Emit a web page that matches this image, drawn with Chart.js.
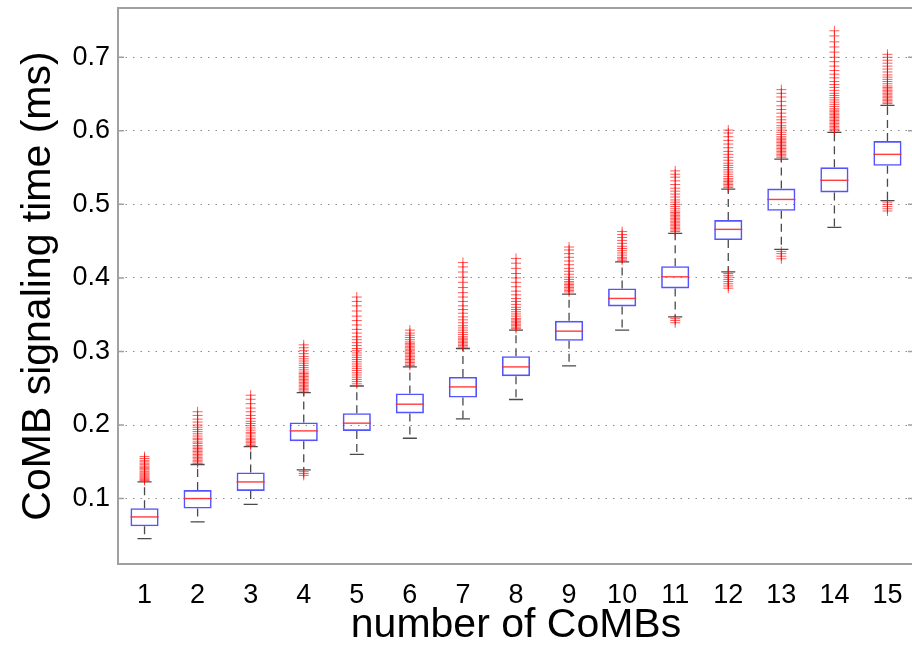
<!DOCTYPE html>
<html>
<head>
<meta charset="utf-8">
<script src="https://cdn.jsdelivr.net/npm/chart.js@4.4.1/dist/chart.umd.min.js"></script>
<style>
  html, body { margin: 0; padding: 0; background: #fff; overflow: hidden; }
  #wrap { width: 920px; height: 646px; }
</style>
</head>
<body>
<div id="wrap"><canvas id="myChart" width="920" height="646"></canvas></div>
<script>
// box plot values (ms)
const categories = [1, 2, 3, 4, 5, 6, 7, 8, 9, 10, 11, 12, 13, 14, 15];
const q1 = [0.0623, 0.0864, 0.1103, 0.178, 0.192, 0.2157, 0.2374, 0.2664, 0.3144, 0.3612, 0.3857, 0.4514, 0.4912, 0.5163, 0.5525];
const medians = [0.075, 0.100, 0.1226, 0.192, 0.2025, 0.2283, 0.2518, 0.279, 0.3276, 0.3721, 0.4015, 0.466, 0.5067, 0.5327, 0.568];
const q3 = [0.0868, 0.1115, 0.1354, 0.2034, 0.216, 0.2429, 0.2654, 0.2936, 0.3416, 0.3857, 0.416, 0.4786, 0.5215, 0.5503, 0.5861];
const whiskerLow = [0.0456, 0.0682, 0.0922, 0.139, 0.160, 0.182, 0.2083, 0.2347, 0.2804, 0.329, 0.347, 0.4083, 0.4388, 0.4687, 0.505];
const whiskerHigh = [0.1226, 0.1463, 0.1707, 0.244, 0.253, 0.279, 0.304, 0.329, 0.378, 0.4219, 0.4605, 0.5208, 0.5616, 0.598, 0.6347];
const outliers = [
  [0.1245, 0.126, 0.1275, 0.129, 0.1305, 0.132, 0.1335, 0.135, 0.137, 0.139, 0.1405, 0.142, 0.144, 0.146, 0.148, 0.150, 0.152, 0.1545, 0.157],
  [0.148, 0.150, 0.152, 0.154, 0.156, 0.158, 0.160, 0.162, 0.164, 0.166, 0.168, 0.170, 0.172, 0.175, 0.177, 0.180, 0.182, 0.185, 0.188, 0.191, 0.194, 0.197, 0.200, 0.204, 0.208, 0.213, 0.218],
  [0.172, 0.174, 0.176, 0.178, 0.180, 0.182, 0.185, 0.188, 0.190, 0.193, 0.196, 0.199, 0.202, 0.205, 0.209, 0.213, 0.218, 0.223, 0.229, 0.235, 0.2405],
  [0.1365, 0.134, 0.1315, 0.246, 0.248, 0.250, 0.252, 0.254, 0.256, 0.258, 0.260, 0.262, 0.264, 0.266, 0.268, 0.270, 0.272, 0.275, 0.278, 0.281, 0.284, 0.287, 0.290, 0.293, 0.297, 0.301, 0.305, 0.309],
  [0.256, 0.259, 0.262, 0.265, 0.268, 0.271, 0.274, 0.277, 0.280, 0.283, 0.286, 0.289, 0.292, 0.295, 0.298, 0.301, 0.304, 0.308, 0.312, 0.316, 0.320, 0.325, 0.330, 0.336, 0.342, 0.348, 0.355, 0.362, 0.368, 0.374],
  [0.281, 0.283, 0.285, 0.287, 0.289, 0.291, 0.293, 0.295, 0.297, 0.299, 0.301, 0.303, 0.305, 0.307, 0.309, 0.311, 0.313, 0.316, 0.319, 0.322, 0.325, 0.329],
  [0.306, 0.308, 0.310, 0.312, 0.314, 0.316, 0.318, 0.320, 0.323, 0.326, 0.329, 0.332, 0.335, 0.339, 0.343, 0.347, 0.352, 0.357, 0.362, 0.368, 0.374, 0.380, 0.387, 0.394, 0.401, 0.408, 0.415, 0.421],
  [0.331, 0.333, 0.335, 0.337, 0.339, 0.341, 0.343, 0.345, 0.348, 0.351, 0.354, 0.357, 0.360, 0.364, 0.368, 0.372, 0.377, 0.382, 0.388, 0.394, 0.400, 0.406, 0.413, 0.420, 0.4265],
  [0.381, 0.383, 0.385, 0.387, 0.389, 0.391, 0.393, 0.395, 0.398, 0.401, 0.405, 0.409, 0.413, 0.418, 0.423, 0.428, 0.433, 0.438, 0.442],
  [0.424, 0.426, 0.428, 0.431, 0.434, 0.437, 0.440, 0.443, 0.447, 0.451, 0.455, 0.459, 0.463],
  [0.3445, 0.342, 0.339, 0.463, 0.465, 0.467, 0.469, 0.471, 0.473, 0.475, 0.477, 0.479, 0.481, 0.483, 0.485, 0.487, 0.489, 0.491, 0.494, 0.497, 0.500, 0.503, 0.506, 0.510, 0.514, 0.518, 0.522, 0.527, 0.532, 0.537, 0.541, 0.5455],
  [0.406, 0.4035, 0.401, 0.398, 0.395, 0.392, 0.389, 0.386, 0.523, 0.525, 0.527, 0.529, 0.531, 0.533, 0.535, 0.538, 0.541, 0.544, 0.547, 0.550, 0.553, 0.556, 0.560, 0.564, 0.568, 0.572, 0.577, 0.582, 0.587, 0.592, 0.597, 0.601],
  [0.436, 0.433, 0.4295, 0.426, 0.564, 0.566, 0.568, 0.570, 0.572, 0.574, 0.576, 0.578, 0.580, 0.582, 0.584, 0.586, 0.588, 0.590, 0.592, 0.595, 0.598, 0.601, 0.604, 0.607, 0.611, 0.615, 0.619, 0.624, 0.629, 0.634, 0.640, 0.646, 0.651, 0.656],
  [0.600, 0.602, 0.604, 0.606, 0.608, 0.610, 0.612, 0.614, 0.616, 0.618, 0.620, 0.622, 0.624, 0.626, 0.628, 0.630, 0.633, 0.636, 0.639, 0.642, 0.645, 0.648, 0.651, 0.655, 0.659, 0.663, 0.667, 0.672, 0.677, 0.682, 0.688, 0.694, 0.700, 0.707, 0.714, 0.721, 0.729, 0.736],
  [0.503, 0.500, 0.497, 0.494, 0.491, 0.637, 0.639, 0.641, 0.643, 0.645, 0.647, 0.649, 0.651, 0.653, 0.655, 0.657, 0.659, 0.661, 0.664, 0.667, 0.670, 0.673, 0.676, 0.680, 0.684, 0.688, 0.692, 0.696, 0.700, 0.704]
];
const yTicks = [0.1, 0.2, 0.3, 0.4, 0.5, 0.6, 0.7];

const FONT = "'Liberation Sans', Arial, Helvetica, sans-serif";
const labels = categories.map(String);

const outlierPoints = [];
outliers.forEach((list, i) => {
    list.forEach(v => outlierPoints.push({ x: labels[i], y: v }));
});

// whiskers, caps and medians drawn right after the boxes
const boxExtras = {
    id: 'boxExtras',
    afterDatasetDraw(chart, args) {
        if (args.index !== 1) return;
        const ctx = chart.ctx;
        const y = chart.scales.y;
        const bars = args.meta.data;
        ctx.save();
        bars.forEach((bar, i) => {
            const x = bar.x;
            const half = bar.width / 2;
            const cap = bar.width / 4;
            ctx.strokeStyle = '#4a4a4a';
            ctx.lineWidth = 1.3;
            ctx.setLineDash([8, 5]);
            ctx.beginPath();
            ctx.moveTo(x, y.getPixelForValue(q3[i]));
            ctx.lineTo(x, y.getPixelForValue(whiskerHigh[i]));
            ctx.moveTo(x, y.getPixelForValue(q1[i]));
            ctx.lineTo(x, y.getPixelForValue(whiskerLow[i]));
            ctx.stroke();
            ctx.setLineDash([]);
            ctx.beginPath();
            const yh = y.getPixelForValue(whiskerHigh[i]);
            const yl = y.getPixelForValue(whiskerLow[i]);
            ctx.moveTo(x - cap, yh); ctx.lineTo(x + cap, yh);
            ctx.moveTo(x - cap, yl); ctx.lineTo(x + cap, yl);
            ctx.stroke();
            ctx.strokeStyle = 'rgba(255,40,40,0.9)';
            ctx.lineWidth = 1.4;
            const ym = y.getPixelForValue(medians[i]);
            ctx.beginPath();
            ctx.moveTo(x - half, ym); ctx.lineTo(x + half, ym);
            ctx.stroke();
        });
        ctx.restore();
    },
    afterDraw(chart) {
        const { ctx, chartArea: a } = chart;
        const y = chart.scales.y;
        ctx.save();
        ctx.strokeStyle = '#a0a0a0';
        ctx.lineWidth = 2;
        ctx.strokeRect(a.left, a.top, a.right - a.left, a.bottom - a.top);
        ctx.lineWidth = 1.5;
        ctx.beginPath();
        yTicks.forEach(v => {
            const py = y.getPixelForValue(v);
            ctx.moveTo(a.left, py); ctx.lineTo(a.left + 6, py);
            ctx.moveTo(a.right - 6, py); ctx.lineTo(a.right, py);
        });
        ctx.stroke();
        ctx.restore();
    }
};

const ctx = document.getElementById('myChart').getContext('2d');
const myChart = new Chart(ctx, {
    type: 'bar',
    data: {
        labels: labels,
        datasets: [{
            type: 'scatter',
            data: outlierPoints,
            pointStyle: 'cross',
            radius: 5,
            borderColor: 'rgba(255,0,0,0.65)',
            backgroundColor: 'rgba(255,0,0,0.65)',
            borderWidth: 1
        }, {
            data: categories.map((c, i) => [q1[i], q3[i]]),
            backgroundColor: 'rgba(0,0,0,0)',
            borderColor: 'rgba(40,40,255,0.8)',
            borderWidth: 1.6,
            borderSkipped: false,
            barPercentage: 0.53,
            categoryPercentage: 1
        }]
    },
    options: {
        responsive: false,
        animation: false,
        events: [],
        layout: { padding: { top: 8, left: 0, right: 3, bottom: 0 } },
        plugins: { legend: { display: false }, tooltip: { enabled: false } },
        scales: {
            x: {
                type: 'category',
                offset: true,
                grid: { display: false, drawTicks: false },
                border: { display: false },
                ticks: { color: '#000', padding: 15, font: { family: FONT, size: 27 }, maxRotation: 0, autoSkip: false },
                title: {
                    display: true,
                    text: 'number of CoMBs',
                    color: '#000',
                    font: { family: FONT, size: 41, lineHeight: 1 },
                    padding: { top: 0, bottom: 0 }
                },
                afterFit: (s) => { s.height = 82; s.paddingLeft = 0; s.paddingRight = 0; }
            },
            y: {
                min: 0.011,
                max: 0.767,
                grid: { color: 'rgba(90,90,90,0.7)', lineWidth: 1, drawTicks: false },
                border: { display: false, dash: [1.5, 6] },
                ticks: {
                    color: '#000',
                    padding: 8,
                    font: { family: FONT, size: 27 },
                    callback: (v) => Number(v).toFixed(1)
                },
                afterBuildTicks: (s) => { s.ticks = yTicks.map(v => ({ value: v })); },
                title: {
                    display: true,
                    text: 'CoMB signaling time (ms)',
                    color: '#000',
                    font: { family: FONT, size: 41, lineHeight: 1 },
                    padding: { top: 18, bottom: 0 }
                },
                afterFit: (s) => { s.width = 118; s.paddingTop = 0; s.paddingBottom = 0; }
            }
        }
    },
    plugins: [boxExtras]
});
</script>
</body>
</html>
